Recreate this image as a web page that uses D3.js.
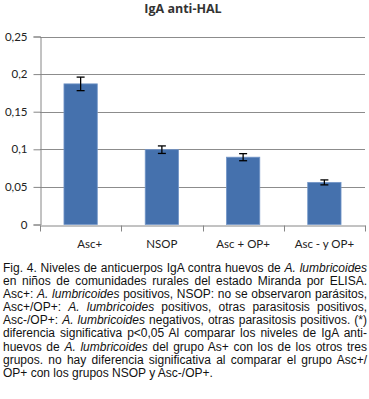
<!DOCTYPE html>
<html>
<head>
<meta charset="utf-8">
<script src="https://cdn.jsdelivr.net/npm/d3@7"></script>
<style>
  body { margin: 0; background: #fff; }
  #vis { position: absolute; left: 0; top: 0; }
  #caption { position: absolute; left: 3px; top: 262px; width: 364px;
             font-family: "Liberation Sans", Arial, sans-serif; font-size: 12px;
             line-height: 13.1px; color: #111; }
  #caption div { white-space: nowrap; }
</style>
</head>
<body>
<div id="vis"></div>
<div id="caption"></div>
<script>
var categories = ["Asc+", "NSOP", "Asc + OP+", "Asc - y OP+"];
var values = [0.187, 0.0995, 0.0895, 0.056];
var errors = [0.009, 0.005, 0.0047, 0.0033];
var yTicks = [0, 0.05, 0.1, 0.15, 0.2, 0.25];
var yTickLabels = ["0", "0,05", "0,1", "0,15", "0,2", "0,25"];
var title = "IgA anti-HAL";

var captionLines = [
    "Fig. 4. Niveles de anticuerpos IgA contra huevos de <i>A. lumbricoides</i>",
    "en niños de comunidades rurales del estado Miranda por ELISA.",
    "Asc+: <i>A. lumbricoides</i> positivos, NSOP: no se observaron parásitos,",
    "Asc+/OP+: <i>A. lumbricoides</i> positivos, otras parasitosis positivos,",
    "Asc-/OP+: <i>A. lumbricoides</i> negativos, otras parasitosis positivos. (*)",
    "diferencia significativa p&lt;0,05 Al comparar los niveles de IgA anti-",
    "huevos de <i>A. lumbricoides</i> del grupo As+ con los de los otros tres",
    "grupos. no hay diferencia significativa al comparar el grupo Asc+/",
    "OP+ con los grupos NSOP y Asc-/OP+."
];

var width = 369, height = 260;
var plot = { left: 40, right: 365, top: 36.5, bottom: 224.5 };

var svg = d3.select("#vis").append("svg")
    .attr("width", width)
    .attr("height", height);

var x = d3.scaleBand()
    .domain(categories)
    .range([plot.left, plot.right]);

var y = d3.scaleLinear()
    .domain([0, 0.25])
    .range([plot.bottom, plot.top]);

var barW = x.bandwidth() * 0.41;

// gridlines
svg.append("g")
    .selectAll("line")
    .data(yTicks.slice(1))
    .enter().append("line")
    .attr("x1", plot.left)
    .attr("x2", plot.right)
    .attr("y1", function (d) { return Math.round(y(d)) + 0.5; })
    .attr("y2", function (d) { return Math.round(y(d)) + 0.5; })
    .attr("stroke", "#8c8c8c")
    .attr("stroke-width", 1);

// y axis
var yAxis = svg.append("g")
    .attr("transform", "translate(" + (plot.left + 0.5) + ",0)")
    .call(d3.axisLeft(y)
        .tickValues(yTicks)
        .tickSize(7)
        .tickPadding(6)
        .tickFormat(function (d, i) { return yTickLabels[i]; }));
yAxis.select(".domain").attr("stroke", "#868686");
yAxis.selectAll(".tick line").attr("stroke", "#868686");
yAxis.selectAll("text")
    .attr("font-family", "Lato, 'Open Sans', sans-serif")
    .attr("font-size", 11.5)
    .attr("fill", "#222");

// x axis
var xAxis = svg.append("g")
    .attr("transform", "translate(0," + (Math.round(y(0)) + 0.5) + ")")
    .call(d3.axisBottom(x).tickSize(0).tickPadding(14));
xAxis.select(".domain").attr("stroke", "#868686");
xAxis.selectAll("text")
    .attr("font-family", "Lato, 'Open Sans', sans-serif")
    .attr("font-size", 11.5)
    .attr("fill", "#222")
    .attr("dx", function (d, i) { return i === 0 ? 9 : 0; });

// category separators
xAxis.selectAll(".sep")
    .data(categories.concat(["end"]))
    .enter().append("line")
    .attr("class", "sep")
    .attr("x1", function (d, i) { return Math.round(plot.left + i * x.step()) + 0.5; })
    .attr("x2", function (d, i) { return Math.round(plot.left + i * x.step()) + 0.5; })
    .attr("y1", 0)
    .attr("y2", 6)
    .attr("stroke", "#868686");

// bars
svg.append("g")
    .selectAll("rect")
    .data(values)
    .enter().append("rect")
    .attr("x", function (d, i) { return x(categories[i]) + (x.bandwidth() - barW) / 2; })
    .attr("y", function (d) { return y(d); })
    .attr("width", barW)
    .attr("height", function (d) { return y(0) - y(d); })
    .attr("fill", "#4571ad")
    .attr("stroke", "#7396c8")
    .attr("stroke-width", 0.8);

// error bars
var eb = svg.append("g")
    .selectAll("g")
    .data(values)
    .enter().append("g")
    .attr("stroke", "#000")
    .attr("stroke-width", 1.3);
eb.append("line")
    .attr("x1", function (d, i) { return x(categories[i]) + x.bandwidth() / 2; })
    .attr("x2", function (d, i) { return x(categories[i]) + x.bandwidth() / 2; })
    .attr("y1", function (d, i) { return y(d + errors[i]); })
    .attr("y2", function (d, i) { return y(d - errors[i]); });
[1, -1].forEach(function (s) {
    eb.append("line")
        .attr("x1", function (d, i) { return x(categories[i]) + x.bandwidth() / 2 - 4; })
        .attr("x2", function (d, i) { return x(categories[i]) + x.bandwidth() / 2 + 4; })
        .attr("y1", function (d, i) { return y(d + s * errors[i]); })
        .attr("y2", function (d, i) { return y(d + s * errors[i]); });
});

// title
svg.append("text")
    .attr("x", 183)
    .attr("y", 13)
    .attr("text-anchor", "middle")
    .attr("font-family", "'Open Sans', Lato, sans-serif")
    .attr("font-weight", "bold")
    .attr("font-size", 12.5)
    .attr("fill", "#333")
    .text(title);

// caption, justified line by line
var capW = 364;
var lines = d3.select("#caption").selectAll("div")
    .data(captionLines)
    .enter().append("div")
    .append("span")
    .html(function (d) { return d; });
lines.each(function (d, i) {
    if (i === captionLines.length - 1) return;
    var w = this.getBoundingClientRect().width;
    var spaces = (this.textContent.match(/ /g) || []).length;
    d3.select(this).style("word-spacing", ((capW - w) / spaces) + "px");
});
</script>
</body>
</html>
